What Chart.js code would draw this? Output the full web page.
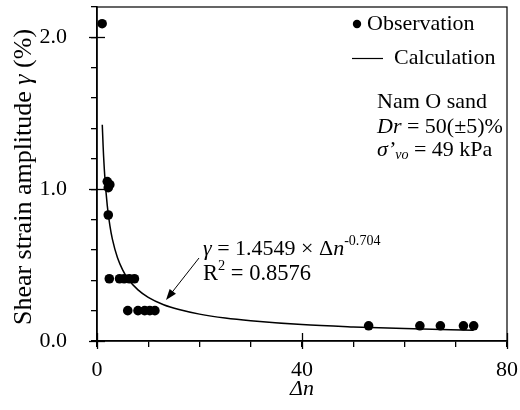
<!DOCTYPE html>
<html>
<head>
<meta charset="utf-8">
<script src="https://cdn.jsdelivr.net/npm/chart.js@4.4.1/dist/chart.umd.min.js"></script>
<style>
  html, body { margin: 0; padding: 0; background: #fff; }
  #wrap { width: 520px; height: 410px; }
</style>
</head>
<body>
<div id="wrap"><canvas id="chart" width="520" height="410"></canvas></div>
<script>
// observations (Δn, γ %)
const obsX = [1.0, 2.0, 2.5, 2.2, 2.2, 2.4, 4.4, 5.3, 6.3, 7.3, 6.0, 8.0, 9.3, 10.3, 11.3, 53, 63, 67, 71.5, 73.5];
const obsY = [2.09, 1.05, 1.03, 1.01, 0.83, 0.41, 0.41, 0.41, 0.41, 0.41, 0.20, 0.20, 0.20, 0.20, 0.20, 0.10, 0.10, 0.10, 0.10, 0.10];

// fitted curve
const calcX = [1.03, 1.2, 1.5, 2, 2.5, 3, 4, 5, 6, 8, 10, 13, 16, 20, 25, 30, 40, 50, 60, 73.5];
const calcY = [1.425, 1.280, 1.094, 0.893, 0.763, 0.671, 0.548, 0.469, 0.412, 0.337, 0.288, 0.239, 0.207, 0.177, 0.151, 0.133, 0.108, 0.093, 0.082, 0.071];

const xLabels = [0, 40, 80];
const yLabels = [0, 1, 2];

const FONT = '"Liberation Serif", "Times New Roman", Times, serif';
const INK = '#000';

function fontStr(size, italic) {
  return (italic ? 'italic ' : '') + size + 'px ' + FONT;
}

// draw a line of mixed-style text; align: 'left' | 'center'
function drawRuns(ctx, x, y, runs, size, align) {
  ctx.save();
  ctx.textBaseline = 'middle';
  ctx.textAlign = 'left';
  ctx.fillStyle = INK;
  const parts = runs.map(r => {
    const s = (r.sup || r.sub) ? size * 0.64 : size;
    ctx.font = fontStr(s, r.italic);
    return { r, s, w: ctx.measureText(r.t).width };
  });
  const total = parts.reduce((a, p) => a + p.w, 0);
  let cx = align === 'center' ? x - total / 2 : x;
  parts.forEach(p => {
    ctx.font = fontStr(p.s, p.r.italic);
    let dy = 0;
    if (p.r.sup) dy = -size * 0.36;
    if (p.r.sub) dy = size * 0.22;
    ctx.fillText(p.r.t, cx, y + dy);
    cx += p.w;
  });
  ctx.restore();
  return total;
}

const decorPlugin = {
  id: 'decor',
  afterDraw(chart) {
    const { ctx, chartArea: a, scales } = chart;
    ctx.save();
    // frame
    ctx.strokeStyle = INK;
    ctx.lineWidth = 1.2;
    ctx.strokeRect(a.left, a.top, a.right - a.left, a.bottom - a.top);
    // major ticks cross the axes
    ctx.lineWidth = 1.3;
    xLabels.forEach(v => {
      const px = Math.round(scales.x.getPixelForValue(v)) + 0.5;
      ctx.beginPath();
      ctx.moveTo(px, a.bottom - 8);
      ctx.lineTo(px, a.bottom + 8);
      ctx.stroke();
    });
    yLabels.forEach(v => {
      const py = Math.round(scales.y.getPixelForValue(v)) + 0.5;
      ctx.beginPath();
      ctx.moveTo(a.left - 8, py);
      ctx.lineTo(a.left + 8, py);
      ctx.stroke();
    });

    // y axis title
    ctx.save();
    ctx.translate(24, 177);
    ctx.rotate(-Math.PI / 2);
    drawRuns(ctx, 0, 0, [
      { t: 'Shear strain amplitude ' },
      { t: 'γ', italic: true },
      { t: ' (%)' }
    ], 26, 'center');
    ctx.restore();

    // legend
    const ds0 = chart.data.datasets[0];
    ctx.fillStyle = ds0.pointBackgroundColor;
    ctx.beginPath();
    ctx.arc(357, 24, 4.2, 0, Math.PI * 2);
    ctx.fill();
    drawRuns(ctx, 367, 24, [{ t: ds0.label }], 22, 'left');
    const ds1 = chart.data.datasets[1];
    ctx.strokeStyle = ds1.borderColor;
    ctx.lineWidth = 1.2;
    ctx.beginPath();
    ctx.moveTo(352, 58.5);
    ctx.lineTo(383, 58.5);
    ctx.stroke();
    drawRuns(ctx, 394, 58, [{ t: ds1.label }], 22, 'left');

    // soil info
    drawRuns(ctx, 377, 102, [{ t: 'Nam O sand' }], 22, 'left');
    drawRuns(ctx, 377, 127, [
      { t: 'Dr', italic: true },
      { t: ' = 50(±5)%' }
    ], 22, 'left');
    drawRuns(ctx, 377, 150, [
      { t: 'σ’', italic: true },
      { t: 'vo', italic: true, sub: true },
      { t: ' = 49 kPa' }
    ], 22, 'left');

    // regression text
    drawRuns(ctx, 203, 249, [
      { t: 'γ', italic: true },
      { t: ' = 1.4549 × Δ' },
      { t: 'n', italic: true },
      { t: '-0.704', sup: true }
    ], 22, 'left');
    drawRuns(ctx, 203, 274, [
      { t: 'R' },
      { t: '2', sup: true },
      { t: ' = 0.8576' }
    ], 22.5, 'left');

    // arrow to the curve
    const x0 = 199, y0 = 258, x1 = 166, y1 = 300;
    const ang = Math.atan2(y1 - y0, x1 - x0);
    ctx.strokeStyle = INK;
    ctx.fillStyle = INK;
    ctx.lineWidth = 1;
    ctx.beginPath();
    ctx.moveTo(x0, y0);
    ctx.lineTo(x1 - 8 * Math.cos(ang), y1 - 8 * Math.sin(ang));
    ctx.stroke();
    ctx.beginPath();
    ctx.moveTo(x1, y1);
    ctx.lineTo(x1 - 11 * Math.cos(ang) + 4 * Math.sin(ang), y1 - 11 * Math.sin(ang) - 4 * Math.cos(ang));
    ctx.lineTo(x1 - 11 * Math.cos(ang) - 4 * Math.sin(ang), y1 - 11 * Math.sin(ang) + 4 * Math.cos(ang));
    ctx.closePath();
    ctx.fill();
    ctx.restore();
  }
};

const isWhole = (v, step) => Math.abs(v / step - Math.round(v / step)) < 1e-6;

// keep the plot box fixed: no extra label padding around the area
function fixPadding(s) {
  s.paddingTop = 0;
  s.paddingBottom = 0;
  s.paddingLeft = 0;
  s.paddingRight = 0;
}

new Chart(document.getElementById('chart'), {
  type: 'scatter',
  data: {
    datasets: [{
      label: 'Observation',
      data: obsX.map((x, i) => ({ x, y: obsY[i] })),
      pointRadius: 4.8,
      pointBackgroundColor: '#000',
      pointBorderWidth: 0,
      showLine: false,
      order: 1
    }, {
      label: 'Calculation',
      type: 'line',
      data: calcX.map((x, i) => ({ x, y: calcY[i] })),
      borderColor: '#000',
      borderWidth: 1.5,
      pointRadius: 0,
      fill: false,
      cubicInterpolationMode: 'monotone',
      order: 2
    }]
  },
  options: {
    responsive: false,
    animation: false,
    devicePixelRatio: 1,
    layout: { padding: { top: 7, right: 13, left: 0, bottom: 0 } },
    plugins: {
      legend: { display: false },
      tooltip: { enabled: false }
    },
    scales: {
      x: {
        type: 'linear',
        min: 0,
        max: 80,
        afterFit: s => { s.height = 69; fixPadding(s); },
        ticks: {
          stepSize: 10,
          autoSkip: false,
          maxRotation: 0,
          padding: 10,
          color: INK,
          font: { family: FONT, size: 22 },
          callback: v => isWhole(v, 40) ? String(v) : ''
        },
        grid: { drawOnChartArea: false, tickLength: 6, color: INK, lineWidth: 1.3 },
        border: { display: true, color: INK, width: 1.6 },
        title: {
          display: true,
          text: 'Δn',
          color: INK,
          font: { family: FONT, size: 22, style: 'italic' },
          padding: { top: 0, bottom: 8 }
        }
      },
      y: {
        type: 'linear',
        min: 0,
        max: 2.2,
        afterFit: s => { s.width = 97; fixPadding(s); },
        ticks: {
          stepSize: 0.2,
          autoSkip: false,
          padding: 24,
          color: INK,
          font: { family: FONT, size: 22 },
          callback: v => isWhole(v, 1) ? Number(v).toFixed(1) : ''
        },
        grid: { drawOnChartArea: false, tickLength: 6, color: INK, lineWidth: 1.3 },
        border: { display: true, color: INK, width: 1.6 }
      }
    }
  },
  plugins: [decorPlugin]
});
</script>
</body>
</html>
